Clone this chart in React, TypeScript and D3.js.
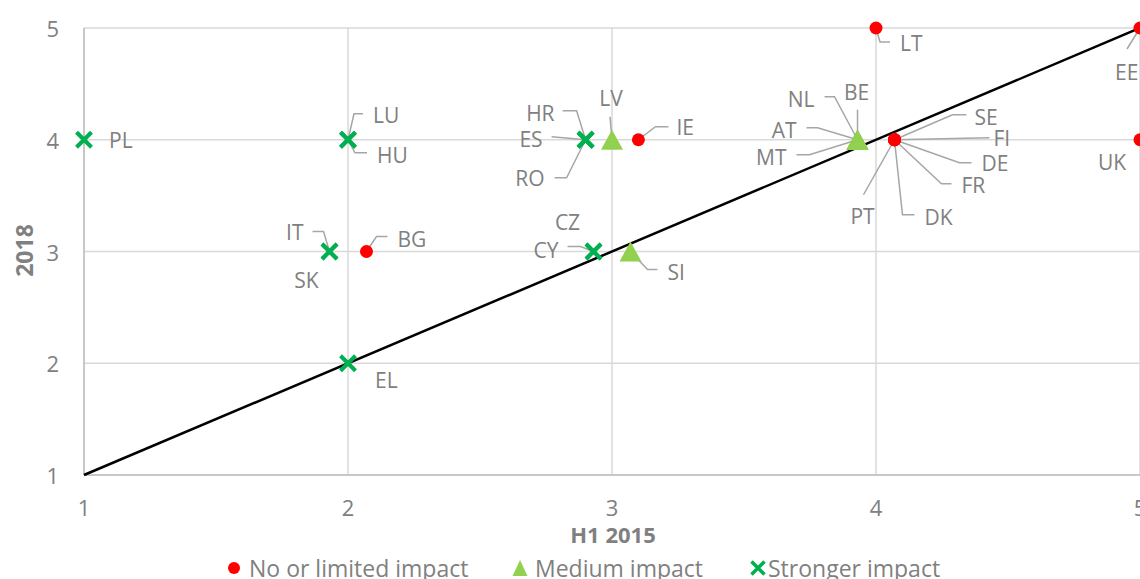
import React from "react";
import * as d3 from "d3";

type Pt = { code: string; x: number; y: number };

const noImpact: Pt[] = [
  { code: "LT", x: 4, y: 5 },
  { code: "EE", x: 5, y: 5 },
  { code: "UK", x: 5, y: 4 },
  { code: "IE", x: 3.1, y: 4 },
  { code: "BG", x: 2.07, y: 3 },
  { code: "SE", x: 4.07, y: 4 },
  { code: "FI", x: 4.07, y: 4 },
  { code: "DE", x: 4.07, y: 4 },
  { code: "FR", x: 4.07, y: 4 },
  { code: "DK", x: 4.07, y: 4 },
  { code: "PT", x: 4.07, y: 4 },
];

const mediumImpact: Pt[] = [
  { code: "LV", x: 3, y: 4 },
  { code: "SI", x: 3.07, y: 3 },
  { code: "AT", x: 3.93, y: 4 },
  { code: "MT", x: 3.93, y: 4 },
  { code: "NL", x: 3.93, y: 4 },
  { code: "BE", x: 3.93, y: 4 },
];

const strongerImpact: Pt[] = [
  { code: "PL", x: 1, y: 4 },
  { code: "LU", x: 2, y: 4 },
  { code: "HU", x: 2, y: 4 },
  { code: "HR", x: 2.9, y: 4 },
  { code: "ES", x: 2.9, y: 4 },
  { code: "RO", x: 2.9, y: 4 },
  { code: "IT", x: 1.93, y: 3 },
  { code: "SK", x: 1.93, y: 3 },
  { code: "CY", x: 2.93, y: 3 },
  { code: "CZ", x: 2.93, y: 3 },
  { code: "EL", x: 2, y: 2 },
];

const xTicks = [1, 2, 3, 4, 5];
const yTicks = [1, 2, 3, 4, 5];
const diagonal = [
  [1, 1],
  [5, 5],
];
const legendItems = ["No or limited impact", "Medium impact", "Stronger impact"];
const xTitle = "H1 2015";
const yTitle = "2018";

// Label layout (pixel offsets from marker): text offset, anchor, leader polyline
type Lab = { tx: number; ty: number; a: "start" | "middle" | "end"; l?: number[][] };
const labelLayout: Record<string, Lab> = {
  LT: { tx: 24, ty: 15, a: "start", l: [[14, 14], [4, 14], [0, 0]] },
  EE: { tx: -25, ty: 44, a: "start", l: [[-13, 21], [0, 0]] },
  UK: { tx: -42, ty: 22, a: "start" },
  IE: { tx: 38, ty: -13, a: "start", l: [[30, -13], [17, -13], [0, 0]] },
  BG: { tx: 31, ty: -13, a: "start", l: [[21, -15], [10, -15], [0, 0]] },
  SE: { tx: 80, ty: -23, a: "start", l: [[72, -25], [58, -25], [0, 0]] },
  FI: { tx: 99, ty: -2, a: "start", l: [[95, -2], [0, 0]] },
  DE: { tx: 87, ty: 23, a: "start", l: [[77, 23], [65, 23], [0, 0]] },
  FR: { tx: 67, ty: 45, a: "start", l: [[57, 44], [47, 44], [0, 0]] },
  DK: { tx: 30, ty: 77, a: "start", l: [[20, 75], [8, 75], [0, 0]] },
  PT: { tx: -32, ty: 76, a: "middle", l: [[-31, 55], [0, 0]] },
  LV: { tx: -1, ty: -42, a: "middle", l: [[-2, -23], [0, 0]] },
  SI: { tx: 37, ty: 20, a: "start", l: [[27, 18], [17, 18], [0, 0]] },
  AT: { tx: -61, ty: -10, a: "end", l: [[-51, -12], [-40, -12], [0, 0]] },
  MT: { tx: -71, ty: 17, a: "end", l: [[-61, 15], [-48, 15], [0, 0]] },
  NL: { tx: -43, ty: -41, a: "end", l: [[-33, -43], [-23, -43], [0, 0]] },
  BE: { tx: -1, ty: -48, a: "middle", l: [[0, -30], [0, 0]] },
  PL: { tx: 25, ty: 0, a: "start" },
  LU: { tx: 25, ty: -25, a: "start", l: [[15, -26], [6, -26], [0, 0]] },
  HU: { tx: 29, ty: 15, a: "start", l: [[19, 13], [7, 13], [0, 0]] },
  HR: { tx: -31, ty: -27, a: "end", l: [[-23, -29], [-9, -29], [0, 0]] },
  ES: { tx: -43, ty: -1, a: "end", l: [[-34, -3], [0, 0]] },
  RO: { tx: -41, ty: 38, a: "end", l: [[-31, 38], [-19, 38], [0, 0]] },
  IT: { tx: -26, ty: -20, a: "end", l: [[-17, -20], [-6, -20], [0, 0]] },
  SK: { tx: -11, ty: 28, a: "end" },
  CY: { tx: -35, ty: -2, a: "end", l: [[-26, -5], [-13, -5], [0, 0]] },
  CZ: { tx: -26, ty: -30, a: "middle" },
  EL: { tx: 27, ty: 17, a: "start" },
};

const W = 1140;
const H = 579;
const FONT = "'Open Sans', 'Noto Sans', sans-serif";
const GREY = "#808080";
const RED = "#ff0000";
const LGREEN = "#92d050";
const DGREEN = "#00b050";

export default function App() {
  const x = d3.scaleLinear().domain([1, 5]).range([84, 1140]);
  const y = d3.scaleLinear().domain([1, 5]).range([475, 28]);
  const line = d3
    .line<number[]>()
    .x((d) => x(d[0]))
    .y((d) => y(d[1]));
  const leader = d3.line<number[]>().x((d) => d[0]).y((d) => d[1]);

  const all = [...noImpact, ...mediumImpact, ...strongerImpact];

  const tri = (cx: number, cy: number, w: number, h: number) =>
    `M${cx},${cy - h / 2}L${cx + w / 2},${cy + h / 2}L${cx - w / 2},${cy + h / 2}Z`;
  const cross = (cx: number, cy: number, s: number) =>
    `M${cx - s},${cy - s}L${cx + s},${cy + s}M${cx - s},${cy + s}L${cx + s},${cy - s}`;

  return (
    <svg
      width={W}
      height={H}
      style={{ position: "absolute", left: 0, top: 0, background: "#fff" }}
      fontFamily={FONT}
    >
      <rect width={W} height={H} fill="#fff" />
      {/* gridlines */}
      {xTicks.map((t) => (
        <line key={"gx" + t} x1={x(t)} x2={x(t)} y1={y(5)} y2={y(1)} stroke="#d9d9d9" strokeWidth={1.5} />
      ))}
      {yTicks.map((t) => (
        <line key={"gy" + t} x1={x(1)} x2={x(5)} y1={y(t)} y2={y(t)} stroke="#d9d9d9" strokeWidth={1.5} />
      ))}
      <line x1={x(1)} x2={x(1)} y1={y(5)} y2={y(1)} stroke="#bfbfbf" strokeWidth={1.5} />
      <line x1={x(1)} x2={x(5)} y1={y(1)} y2={y(1)} stroke="#bfbfbf" strokeWidth={1.5} />

      {/* tick labels */}
      {xTicks.map((t) => (
        <text key={"tx" + t} x={x(t)} y={507} textAnchor="middle" dominantBaseline="central" fontSize={22} fill={GREY}>
          {t}
        </text>
      ))}
      {yTicks.map((t) => (
        <text key={"ty" + t} x={59} y={y(t)} textAnchor="end" dominantBaseline="central" fontSize={22} fill={GREY}>
          {t}
        </text>
      ))}

      {/* axis titles */}
      <text x={613} y={534} textAnchor="middle" dominantBaseline="central" fontSize={22} fontWeight="bold" fill={GREY}>
        {xTitle}
      </text>
      <text
        transform={`translate(24,${y(3) - 1}) rotate(-90)`}
        textAnchor="middle"
        dominantBaseline="central"
        fontSize={23}
        fontWeight="bold"
        fill={GREY}
      >
        {yTitle}
      </text>

      {/* diagonal */}
      <path d={line(diagonal) || ""} stroke="#000" strokeWidth={2.5} fill="none" />

      {/* leader lines */}
      {all.map((p) => {
        const L = labelLayout[p.code];
        if (!L || !L.l) return null;
        const px = x(p.x);
        const py = y(p.y);
        return (
          <path
            key={"ld" + p.code}
            d={leader(L.l.map((o) => [px + o[0], py + o[1]])) || ""}
            stroke="#a6a6a6"
            strokeWidth={1.5}
            fill="none"
          />
        );
      })}

      {/* markers */}
      {strongerImpact.map((p) => (
        <path key={"s" + p.code} d={cross(x(p.x), y(p.y), 7.5)} stroke={DGREEN} strokeWidth={4} fill="none" />
      ))}
      {mediumImpact.map((p) => (
        <path key={"m" + p.code} d={tri(x(p.x), y(p.y), 22, 20)} fill={LGREEN} />
      ))}
      {noImpact.map((p) => (
        <circle key={"n" + p.code} cx={x(p.x)} cy={y(p.y)} r={6.5} fill={RED} />
      ))}

      {/* labels */}
      {all.map((p) => {
        const L = labelLayout[p.code];
        if (!L) return null;
        return (
          <text
            key={"lb" + p.code}
            x={x(p.x) + L.tx}
            y={y(p.y) + L.ty}
            textAnchor={L.a}
            dominantBaseline="central"
            fontSize={21}
            fill={GREY}
          >
            {p.code}
          </text>
        );
      })}

      {/* legend */}
      <g>
        <circle cx={234} cy={568} r={6} fill={RED} />
        <text x={249} y={568} dominantBaseline="central" fontSize={23} fill={GREY}>
          {legendItems[0]}
        </text>
        <path d={tri(520, 568, 15, 16)} fill={LGREEN} />
        <text x={535} y={568} dominantBaseline="central" fontSize={23} fill={GREY}>
          {legendItems[1]}
        </text>
        <path d={cross(758, 568, 6.5)} stroke={DGREEN} strokeWidth={3.5} fill="none" />
        <text x={768} y={568} dominantBaseline="central" fontSize={23} fill={GREY}>
          {legendItems[2]}
        </text>
      </g>
    </svg>
  );
}
